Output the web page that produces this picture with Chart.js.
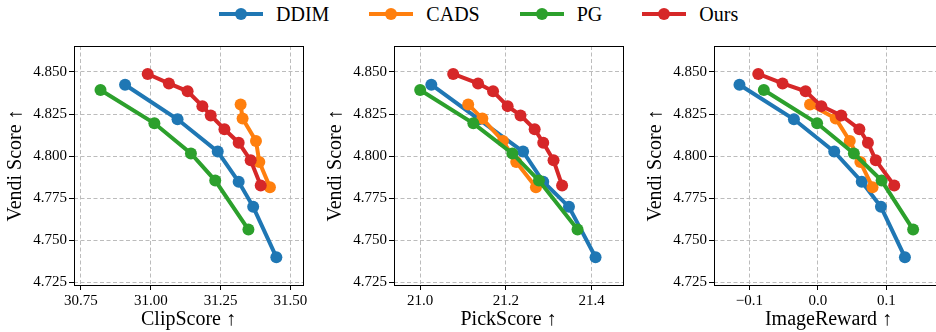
<!DOCTYPE html>
<html>
<head>
<meta charset="utf-8">
<script src="https://cdn.jsdelivr.net/npm/chart.js@4.4.0/dist/chart.umd.min.js"></script>
<style>
  body { margin: 0; background: #fff; width: 936px; height: 332px; overflow: hidden; position: relative; }
  .panel { position: absolute; top: 40px; }
  #legend { position: absolute; top: 2px; left: 219px; height: 24px; display: flex; align-items: center; white-space: nowrap; }
  .item { display: flex; align-items: center; margin-right: 40px; font-family: 'Liberation Serif'; font-size: 20px; color: #000; }
  .swatch { position: relative; width: 44px; height: 4px; margin-right: 13px; }
  .swatch i { position: absolute; left: 16px; top: -4px; width: 12px; height: 12px; border-radius: 50%; }
</style>
</head>
<body>
<div id="legend"></div>
<canvas id="clipChart" class="panel" width="310" height="292" style="left:0px"></canvas>
<canvas id="pickChart" class="panel" width="310" height="292" style="left:320px"></canvas>
<canvas id="rewardChart" class="panel" width="310" height="292" style="left:640px"></canvas>
<script>
// methods
const seriesNames = ['DDIM', 'CADS', 'PG', 'Ours'];
const seriesColors = ['#1f77b4', '#ff7f0e', '#2ca02c', '#d62728'];

// Vendi score (same for every panel)
const vendiDDIM = [4.8424, 4.8219, 4.8027, 4.7848, 4.7699, 4.7400];
const vendiCADS = [4.8307, 4.8223, 4.8090, 4.7965, 4.7816];
const vendiPG = [4.8393, 4.8195, 4.8016, 4.7855, 4.7564];
const vendiOurs = [4.8488, 4.8432, 4.8385, 4.8297, 4.8242, 4.8160, 4.8080, 4.7975, 4.7826];

// ClipScore
const clipDDIM = [30.908, 31.096, 31.240, 31.315, 31.367, 31.450];
const clipCADS = [31.322, 31.329, 31.377, 31.389, 31.427];
const clipPG = [30.820, 31.013, 31.144, 31.231, 31.350];
const clipOurs = [30.989, 31.065, 31.132, 31.185, 31.215, 31.264, 31.315, 31.358, 31.394];

// PickScore
const pickDDIM = [21.026, 21.137, 21.240, 21.287, 21.347, 21.409];
const pickCADS = [21.112, 21.145, 21.193, 21.224, 21.270];
const pickPG = [21.000, 21.124, 21.215, 21.277, 21.367];
const pickOurs = [21.077, 21.135, 21.170, 21.204, 21.234, 21.267, 21.287, 21.311, 21.331];

// ImageReward
const rewardDDIM = [-0.1145, -0.0350, 0.0238, 0.0640, 0.0920, 0.1270];
const rewardCADS = [-0.0115, 0.0260, 0.0465, 0.0620, 0.0797];
const rewardPG = [-0.0790, -0.0012, 0.0525, 0.0930, 0.1390];
const rewardOurs = [-0.0871, -0.0516, -0.0180, 0.0050, 0.0340, 0.0605, 0.0730, 0.0845, 0.1114];

// tick labels
const vendiTicks = [4.725, 4.750, 4.775, 4.800, 4.825, 4.850];
const clipTicks = [30.75, 31.00, 31.25, 31.50];
const pickTicks = [21.0, 21.2, 21.4];
const rewardTicks = [-0.1, 0.0, 0.1];

const FONT = 'Liberation Serif';
Chart.defaults.font.family = FONT;
Chart.defaults.color = '#000';

// legend on top
const $legend = document.querySelector('#legend');
seriesNames.forEach((name, i) => {
  const item = document.createElement('div');
  item.className = 'item';
  item.innerHTML = '<div class="swatch" style="background:' + seriesColors[i] + '"><i style="background:' +
    seriesColors[i] + '"></i></div>' + name;
  $legend.appendChild(item);
});

// black box around the plot area
const framePlugin = {
  id: 'frame',
  afterDatasetsDraw(chart) {
    const { ctx, chartArea } = chart;
    ctx.save();
    ctx.strokeStyle = '#000';
    ctx.lineWidth = 1;
    ctx.strokeRect(Math.round(chartArea.left) + 0.5, Math.round(chartArea.top) + 0.5,
      Math.round(chartArea.right - chartArea.left), Math.round(chartArea.bottom - chartArea.top));
    ctx.restore();
  }
};

function fmt(v, digits) {
  return v.toFixed(digits).replace('-', '\u2212');
}

function axis(tickValues, digits, min, max, title) {
  return {
    type: 'linear',
    min,
    max,
    afterBuildTicks(scale) {
      scale.ticks = tickValues.map(v => ({ value: v }));
    },
    ticks: {
      autoSkip: false,
      maxRotation: 0,
      padding: 2,
      color: '#000',
      font: { family: FONT, size: 15 },
      callback: v => fmt(v, digits)
    },
    grid: { color: '#bcbcbc', lineWidth: 1, tickColor: '#000', tickLength: 5, tickBorderDash: [] },
    border: { display: false, dash: [4, 2.5] },
    title: { display: true, text: title, color: '#000', font: { family: FONT, size: 20 }, padding: { top: 4, bottom: 0 } }
  };
}

function makePanel(canvasId, xLabel, xTicks, xDigits, xMin, xMax, xSeries) {
  const ySeries = [vendiDDIM, vendiCADS, vendiPG, vendiOurs];
  const datasets = seriesNames.map((name, i) => ({
    label: name,
    data: xSeries[i].map((x, j) => ({ x, y: ySeries[i][j] })),
    showLine: true,
    borderColor: seriesColors[i],
    backgroundColor: seriesColors[i],
    borderWidth: 4,
    pointRadius: 6,
    pointBorderWidth: 0,
    pointHoverRadius: 6,
    order: seriesNames.length - i
  }));

  const xAxis = axis(xTicks, xDigits, xMin, xMax, xLabel);
  xAxis.title.padding = { top: 0, bottom: 0 };
  xAxis.afterFit = scale => {
    scale.height = 47;
    scale.paddingLeft = 0;
    scale.paddingRight = 0;
  };
  const yAxis = axis(vendiTicks, 3, 4.7235, 4.8654, 'Vendi Score \u2191');
  yAxis.afterFit = scale => {
    scale.width = 74;
    scale.paddingTop = 0;
    scale.paddingBottom = 0;
  };

  new Chart(document.querySelector(canvasId), {
    type: 'scatter',
    data: { datasets },
    options: {
      responsive: false,
      animation: false,
      devicePixelRatio: 1,
      layout: { padding: { top: 3, right: 7, bottom: 0, left: 0 } },
      plugins: { legend: { display: false }, tooltip: { enabled: false } },
      scales: { x: xAxis, y: yAxis }
    },
    plugins: [framePlugin]
  });
}

makePanel('#clipChart', 'ClipScore \u2191', clipTicks, 2, 30.725, 31.5455,
  [clipDDIM, clipCADS, clipPG, clipOurs]);
makePanel('#pickChart', 'PickScore \u2191', pickTicks, 1, 20.939, 21.473,
  [pickDDIM, pickCADS, pickPG, pickOurs]);
makePanel('#rewardChart', 'ImageReward \u2191', rewardTicks, 1, -0.1517, 0.1826,
  [rewardDDIM, rewardCADS, rewardPG, rewardOurs]);
</script>
</body>
</html>
